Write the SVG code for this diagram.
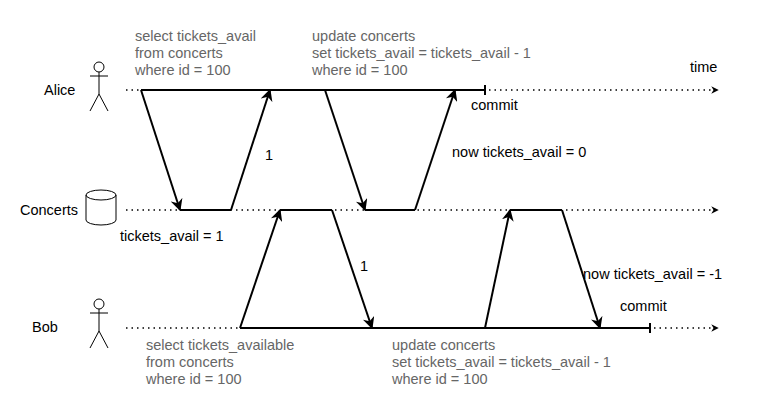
<svg xmlns="http://www.w3.org/2000/svg" width="760" height="410" viewBox="0 0 760 410">
<style>
text{font-family:"Liberation Sans",Arial,sans-serif;font-size:14.5px}
.g{fill:#666}
.k{fill:#000}
.dot{stroke:#000;stroke-width:1.5;stroke-dasharray:1.5 4;fill:none}
.sol{stroke:#000;stroke-width:2;fill:none}
.ar{stroke:#000;stroke-width:2;fill:none;marker-end:url(#a)}
.sh{stroke:#000;stroke-width:1;fill:#fff}
</style>
<defs>
<marker id="a" viewBox="0 0 10 10" refX="9" refY="5" markerWidth="6" markerHeight="6" orient="auto" markerUnits="strokeWidth"><path d="M0,0 L10,5 L0,10 L3,5 z" fill="#000"/></marker>
<marker id="e" viewBox="0 0 10 10" refX="9" refY="5" markerWidth="5" markerHeight="5" orient="auto" markerUnits="strokeWidth"><path d="M0,0 L10,5 L0,10 L3,5 z" fill="#000"/></marker>
</defs>
<g id="alice">
<circle cx="99" cy="67" r="5" class="sh"/>
<path d="M99,72 V94 M90,76 H108 M99,94 L90,111 M99,94 L108,111" class="sh" fill="none"/>
<text x="44" y="95" class="k">Alice</text>
</g>
<g id="concerts">
<path d="M86,195 V220 A15,5 0 0 0 116,220 V195 A15,5 0 0 0 86,195 A15,5 0 0 0 116,195" class="sh"/>
<text x="20" y="215" class="k">Concerts</text>
</g>
<g id="bob">
<circle cx="99" cy="304" r="5" class="sh"/>
<path d="M99,309 V331 M90,313 H108 M99,331 L90,348 M99,331 L108,348" class="sh" fill="none"/>
<text x="32" y="332" class="k">Bob</text>
</g>
<g id="connectors">
<path d="M126,90 H718" class="dot" marker-end="url(#e)"/>
<path d="M126,210 H718" class="dot" marker-end="url(#e)"/>
<path d="M126,328 H718" class="dot" marker-end="url(#e)"/>
<path d="M141,90 H485 M485,85 V95" class="sol"/>
<path d="M240,328 H650 M650,323 V333" class="sol"/>
<path d="M141,90 L180,210" class="ar"/>
<path d="M180,210 H231" class="sol"/>
<path d="M231,210 L270,90" class="ar"/>
<path d="M325,90 L365,210" class="ar"/>
<path d="M365,210 H415" class="sol"/>
<path d="M415,210 L455,90" class="ar"/>
<path d="M240,328 L280,210" class="ar"/>
<path d="M280,210 H332" class="sol"/>
<path d="M332,210 L372,328" class="ar"/>
<path d="M485,328 L510,210" class="ar"/>
<path d="M510,210 H562" class="sol"/>
<path d="M562,210 L600,328" class="ar"/>
</g>
<g id="labels">
<text x="135" y="41" class="g">select tickets_avail</text>
<text x="135" y="58" class="g">from concerts</text>
<text x="135" y="75" class="g">where id = 100</text>
<text x="312" y="41" class="g">update concerts</text>
<text x="312" y="58" class="g">set tickets_avail = tickets_avail - 1</text>
<text x="312" y="75" class="g">where id = 100</text>
<text x="690" y="72" class="k">time</text>
<text x="471" y="110" class="k">commit</text>
<text x="265" y="160" class="k">1</text>
<text x="452" y="157" class="k">now tickets_avail = 0</text>
<text x="120" y="241" class="k">tickets_avail = 1</text>
<text x="360" y="271" class="k">1</text>
<text x="583" y="279" class="k">now tickets_avail = -1</text>
<text x="620" y="311" class="k">commit</text>
<text x="146" y="350" class="g">select tickets_available</text>
<text x="146" y="367" class="g">from concerts</text>
<text x="146" y="384" class="g">where id = 100</text>
<text x="392" y="350" class="g">update concerts</text>
<text x="392" y="367" class="g">set tickets_avail = tickets_avail - 1</text>
<text x="392" y="384" class="g">where id = 100</text>
</g>
</svg>
